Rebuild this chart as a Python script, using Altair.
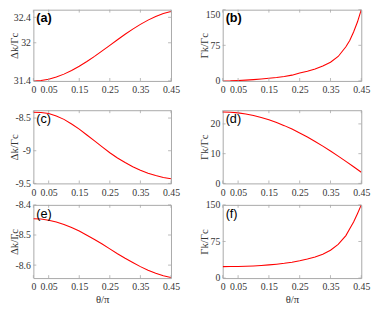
import altair as alt
import pandas as pd

# ---------------- data ----------------
theta = [0, 0.025, 0.05, 0.075, 0.1, 0.125, 0.15, 0.175, 0.2, 0.225, 0.25,
         0.275, 0.3, 0.325, 0.35, 0.375, 0.4, 0.425, 0.45]
theta_fine = [0, 0.025, 0.05, 0.075, 0.1, 0.125, 0.15, 0.175, 0.2, 0.225, 0.25,
              0.275, 0.3, 0.325, 0.35, 0.375, 0.4, 0.4125, 0.425, 0.4375, 0.45]

delta_a = [31.400, 31.407, 31.427, 31.461, 31.507, 31.564, 31.631, 31.706, 31.787,
           31.872, 31.960, 32.048, 32.133, 32.214, 32.289, 32.356, 32.413, 32.459, 32.493]
gamma_b = [0, 0.2, 0.8, 1.7, 2.8, 4.0, 5.5, 7.3, 9.5, 12.2, 16.7, 20.5, 25.3, 31.5,
           39.5, 51.5, 72, 85, 103, 124, 150]
delta_c = [-8.41, -8.415, -8.43, -8.47, -8.52, -8.59, -8.67, -8.76, -8.85, -8.94, -9.03,
           -9.11, -9.18, -9.245, -9.30, -9.345, -9.38, -9.41, -9.43]
gamma_d = [24.0, 23.93, 23.70, 23.34, 22.83, 22.17, 21.38, 20.46, 19.42, 18.25, 16.97,
           15.59, 14.11, 12.54, 10.90, 9.18, 7.42, 5.60, 3.75]
delta_e = [-8.446, -8.447, -8.451, -8.457, -8.465, -8.475, -8.487, -8.501, -8.515, -8.530,
           -8.546, -8.562, -8.577, -8.591, -8.605, -8.617, -8.627, -8.635, -8.641]
gamma_f = [23.5, 23.6, 23.8, 24.2, 24.9, 25.8, 27.0, 28.5, 30.3, 32.6, 35.7, 39.2, 43.3,
           49.0, 57.0, 69.0, 87.0, 101.0, 115.0, 132.0, 150.0]

x_ticks = [0, 0.05, 0.15, 0.25, 0.35, 0.45]
y_ticks_a = [31.4, 32, 32.4]
y_ticks_b = [0, 75, 150]
y_ticks_c = [-9.5, -9, -8.5]
y_ticks_d = [0, 10, 20]
y_ticks_e = [-8.6, -8.5, -8.4]
y_ticks_f = [0, 75, 150]

dom_a = [31.4, 32.52]
dom_b = [0, 150]
dom_c = [-9.5, -8.38]
dom_d = [0, 24.6]
dom_e = [-8.643, -8.4]
dom_f = [0, 150]

y_title_delta = "Δk/Γc"
y_title_gamma = "Γk/Γc"
x_title = "θ/π"

SERIF = "Liberation Serif"
BOX = "#a8a8a8"
TXT = "#333333"


def panel(xs, ys, dom, yticks, ytitle, letter, bold, w, h, xtitle=None, top_flush=False):
    df = pd.DataFrame({"x": xs, "y": ys})
    xscale = alt.Scale(domain=[0, 0.45], nice=False, zero=False)
    yscale = alt.Scale(domain=dom, nice=False, zero=False)
    xaxis = alt.Axis(values=x_ticks, labelExpr="'' + datum.value", labelFlush=False,
                     labelOverlap=False, labelPadding=4,
                     title=xtitle if xtitle else None,
                     titleFont=SERIF, titleFontSize=11, titleFontWeight="normal",
                     titleColor=TXT, titlePadding=2)
    if top_flush:
        baseline = {"condition": {"test": f"datum.value >= {dom[1]}", "value": "top"},
                    "value": "middle"}
    else:
        baseline = "middle"
    yaxis = alt.Axis(values=yticks, labelExpr="'' + datum.value", labelFlush=False,
                     labelOverlap=False, labelPadding=3, labelBaseline=baseline,
                     title=ytitle, titleFont=SERIF, titleFontSize=11,
                     titleFontWeight="normal", titleColor=TXT, titleX=-14)
    line = alt.Chart(df).mark_line(color="#ff0000", strokeWidth=1.1, clip=True).encode(
        x=alt.X("x:Q", scale=xscale, axis=xaxis),
        y=alt.Y("y:Q", scale=yscale, axis=yaxis),
    )
    xt = pd.DataFrame({"x": x_ticks})
    yt = pd.DataFrame({"y": yticks})
    tick_style = dict(color=BOX, strokeWidth=0.8)
    xb = alt.Chart(xt).mark_rule(**tick_style).encode(
        x=alt.X("x:Q", scale=xscale, axis=xaxis), y=alt.value(h - 3), y2=alt.value(h))
    xtop = alt.Chart(xt).mark_rule(**tick_style).encode(
        x=alt.X("x:Q", scale=xscale, axis=xaxis), y=alt.value(0), y2=alt.value(3))
    yl = alt.Chart(yt).mark_rule(**tick_style).encode(
        y=alt.Y("y:Q", scale=yscale, axis=yaxis), x=alt.value(0), x2=alt.value(3))
    yr = alt.Chart(yt).mark_rule(**tick_style).encode(
        y=alt.Y("y:Q", scale=yscale, axis=yaxis), x=alt.value(w - 3), x2=alt.value(w))
    lab = alt.Chart(pd.DataFrame({"t": [letter]})).mark_text(
        align="left", baseline="top", font="Liberation Sans", fontSize=13,
        fontWeight="bold" if bold else "normal", color="#000000",
    ).encode(x=alt.value(3), y=alt.value(3), text=alt.Text("t:N"))
    return alt.layer(line, xb, xtop, yl, yr, lab).properties(width=w, height=h)


WL, WR = 141, 142
H1, H2, H3 = 73, 75, 75
GAP = 53

pa = panel(theta, delta_a, dom_a, y_ticks_a, y_title_delta, "(a)", True, WL, H1)
pb = panel(theta_fine, gamma_b, dom_b, y_ticks_b, y_title_gamma, "(b)", True, WR, H1,
           top_flush=True)
pc = panel(theta, delta_c, dom_c, y_ticks_c, y_title_delta, "(c)", False, WL, H2)
pd_ = panel(theta, gamma_d, dom_d, y_ticks_d, y_title_gamma, "(d)", False, WR, H2)
pe = panel(theta, delta_e, dom_e, y_ticks_e, y_title_delta, "(e)", False, WL, H3, x_title)
pf = panel(theta_fine, gamma_f, dom_f, y_ticks_f, y_title_gamma, "(f)", False, WR, H3, x_title)

row1 = alt.hconcat(pa, pb, spacing=GAP, bounds="flush")
row2 = alt.hconcat(pc, pd_, spacing=GAP, bounds="flush")
row3 = alt.hconcat(pe, pf, spacing=GAP, bounds="flush")
top = alt.vconcat(row1, row2, spacing=14)

chart = alt.vconcat(top, row3, spacing=1).properties(
    padding={"left": 0, "top": -3, "right": 2, "bottom": 2}
).configure_view(stroke=BOX, strokeWidth=1).configure_axis(
    grid=False, domain=False, ticks=False,
    labelFont=SERIF, labelFontSize=10, labelColor=TXT,
)

chart.save("out.html", embed_options={"renderer": "svg", "actions": False})
